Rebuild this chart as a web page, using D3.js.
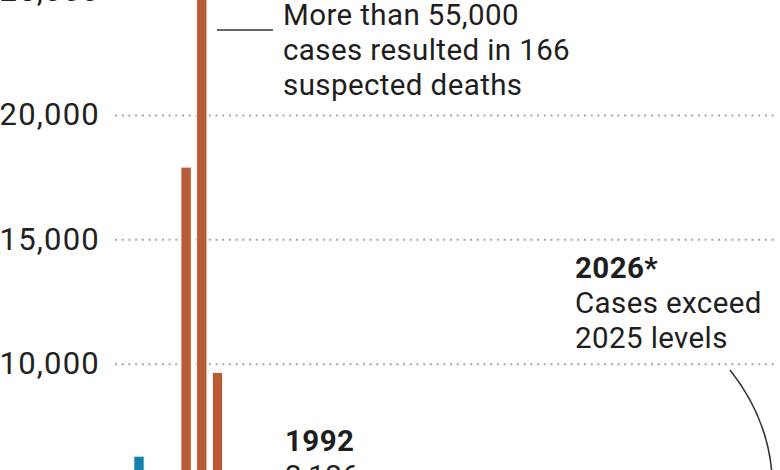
<!DOCTYPE html>
<html>
<head>
<meta charset="utf-8">
<script src="https://cdn.jsdelivr.net/npm/d3@7"></script>
<style>
  html, body { margin: 0; padding: 0; background: #fff; overflow: hidden; }
  svg { display: block; font-family: Roboto, "Liberation Sans", sans-serif; }
</style>
</head>
<body>
<div id="chart"></div>
<script>
// Measles cases by year (only the tallest bars reach into this crop)
const years = d3.range(1985, 2027);
const cases = [
  2822, 6282, 3655, 3396, 17900, 27786, 9643, 2126, 312, 963,
  281, 508, 138, 100, 100, 86, 116, 44, 56, 37,
  66, 55, 43, 140, 71, 63, 220, 55, 187, 667,
  188, 86, 120, 375, 1274, 13, 49, 121, 59, 285,
  2255, 2400
];
const outbreakYears = [1989, 1990, 1991];
const yTicks = [10000, 15000, 20000, 25000];

const data = years.map((y, i) => ({ year: y, value: cases[i] }));

const width = 780, height = 470;

const svg = d3.select("#chart")
  .append("svg")
  .attr("width", width)
  .attr("height", height);

const x = d3.scaleBand()
  .domain(years)
  .range([118.2, 772.1])
  .paddingInner(0.35)
  .paddingOuter(0);

const y = d3.scaleLinear()
  .domain([0, 25000])
  .range([612.5, -9.5]);

// dotted gridlines + tick labels
const yAxis = svg.append("g")
  .attr("transform", "translate(115,0)")
  .call(d3.axisLeft(y)
    .tickValues(yTicks)
    .tickSize(-660)
    .tickPadding(15)
    .tickFormat(d3.format(",")));

yAxis.select(".domain").remove();
yAxis.selectAll(".tick line")
  .attr("stroke", "#a6a6a6")
  .attr("stroke-width", 2)
  .attr("stroke-dasharray", "2,4.7");
yAxis.selectAll(".tick text")
  .attr("fill", "#222")
  .style("font-size", "31px")
  .style("letter-spacing", "1.2px")
  .style("font-family", "Roboto, sans-serif");

// bars
svg.append("g")
  .selectAll("rect")
  .data(data)
  .enter()
  .append("rect")
  .attr("x", d => x(d.year))
  .attr("y", d => y(d.value))
  .attr("width", x.bandwidth())
  .attr("height", d => y(0) - y(d.value))
  .attr("fill", d => outbreakYears.includes(d.year) ? "#b75c37" : "#1681ab")
  .attr("stroke", "#fff")
  .attr("stroke-width", 0.8);

// annotations
const notes = svg.append("g")
  .attr("fill", "#1e1e1e")
  .style("font-size", "29.5px")
  .style("letter-spacing", "0.4px");

notes.append("line")
  .attr("x1", 217).attr("x2", 273)
  .attr("y1", 30).attr("y2", 30)
  .attr("stroke", "#333")
  .attr("stroke-width", 1.6);

const outbreakText = ["More than 55,000", "cases resulted in 166", "suspected deaths"];
notes.append("text")
  .attr("x", 283)
  .attr("y", 25)
  .selectAll("tspan")
  .data(outbreakText)
  .enter()
  .append("tspan")
  .attr("x", 283)
  .attr("dy", (d, i) => i === 0 ? 0 : 35)
  .text(d => d);

const note1992 = notes.append("text").attr("x", 285).attr("y", 451);
note1992.append("tspan").attr("font-weight", "bold").text("1992");
note1992.append("tspan").attr("x", 285).attr("dy", 35).text("2,126 cases");

const note2026 = notes.append("text").attr("x", 575).attr("y", 278);
note2026.append("tspan").attr("font-weight", "bold").text("2026*");
note2026.append("tspan").attr("x", 575).attr("dy", 35).text("Cases exceed");
note2026.append("tspan").attr("x", 575).attr("dy", 35).text("2025 levels");

notes.append("path")
  .attr("d", "M730,370 Q768,418 772,475")
  .attr("fill", "none")
  .attr("stroke", "#333")
  .attr("stroke-width", 1.6);
</script>
</body>
</html>
